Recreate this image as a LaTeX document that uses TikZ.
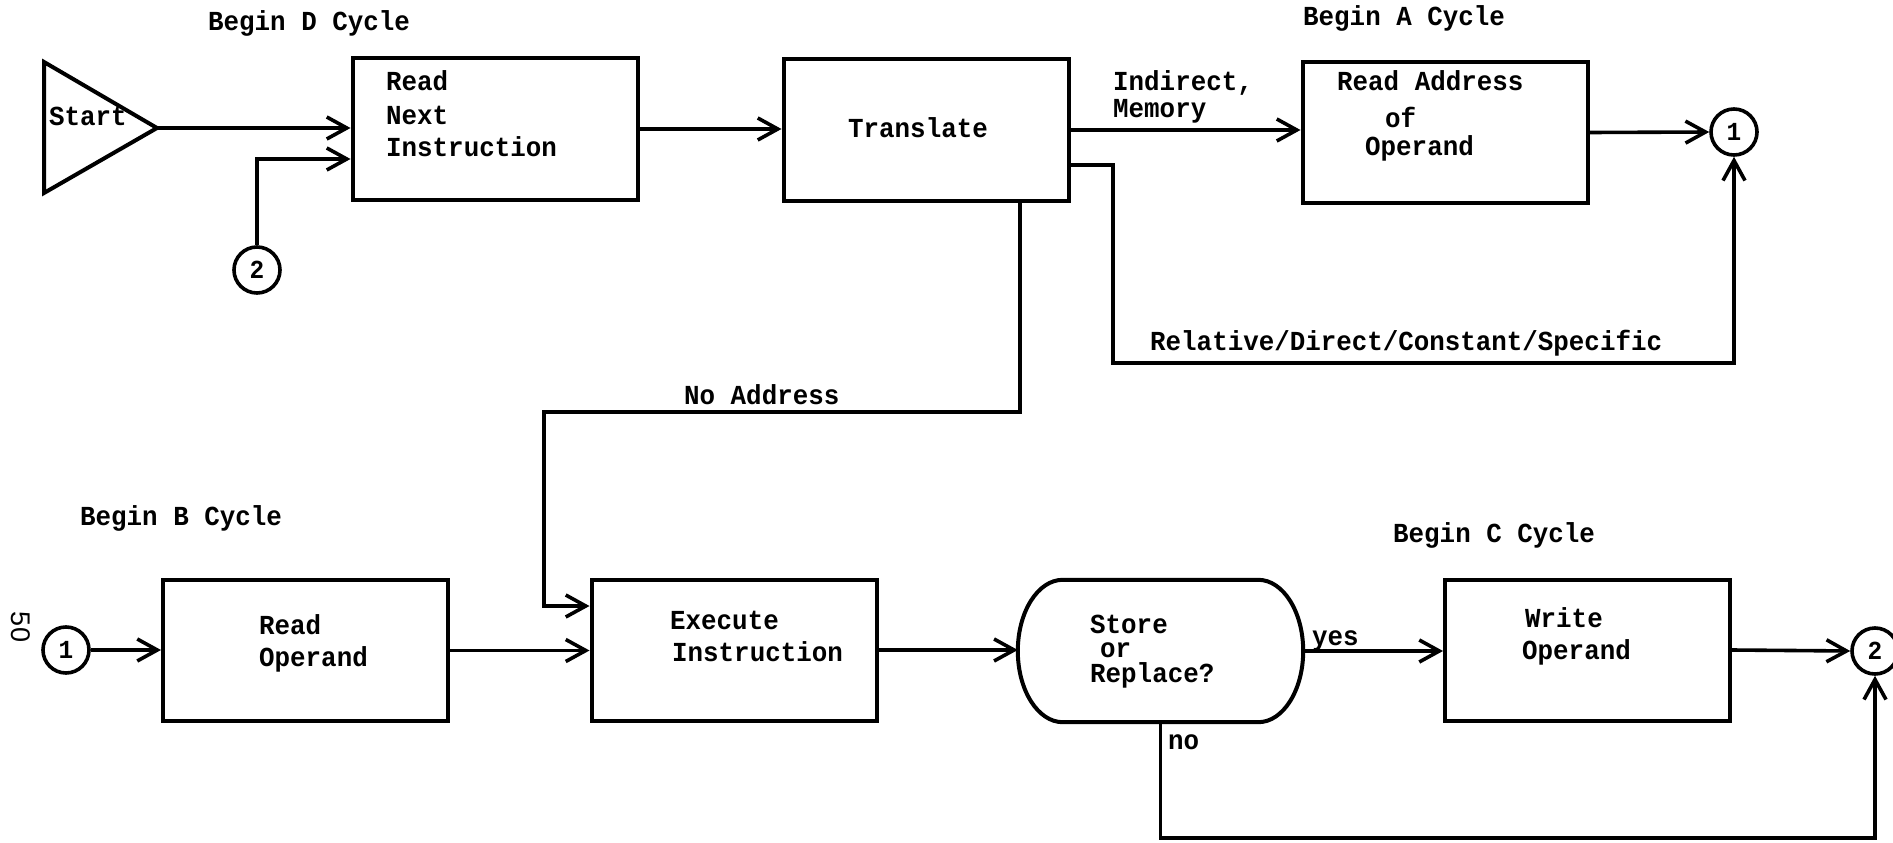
\documentclass[tikz,border=0pt]{standalone}
\usepackage{fontspec}
\setmainfont{Liberation Serif}
\setmonofont[FakeStretch=0.94]{Liberation Mono}
\setsansfont{Liberation Sans}
\usetikzlibrary{arrows.meta,calc}

\begin{document}
\begin{tikzpicture}[x=1pt,y=-1pt,
  txt/.style={font=\ttfamily\bfseries\fontsize{27.5}{30}\selectfont, inner sep=0pt,
    anchor=mid west, yshift=-5pt},
  box/.style={draw, line width=4pt, minimum width=285pt, minimum height=141pt, inner sep=0pt},
  conn/.style={draw, circle, line width=3.6pt, minimum size=46pt, inner sep=0pt,
    font=\ttfamily\bfseries\fontsize{26}{28}\selectfont},
  flow/.style={line width=3.6pt, -{Straight Barb[length=20pt,width=22pt]}},
  wire/.style={line width=3.6pt}]

% page frame
\fill[white] (0,0) rectangle (1893,843);
\useasboundingbox (0,0) rectangle (1893,843);

% ---- start symbol
\coordinate (st1) at (44,62);
\coordinate (st2) at (44,193);
\coordinate (sttip) at (157,128);
\draw[line width=4pt, line join=miter] (st1) -- (sttip) -- (st2) -- cycle;
\node[txt] (tstart) at (49,118) {Start};

% ---- process boxes
\node[box] (rn)  at (495,129)    {};
\node[box] (tr)  at (926,130)    {};
\node[box] (ra)  at (1445,132.5) {};
\node[box] (ro)  at (305.5,650.5){};
\node[box] (ex)  at (734,650)    {};
\node[box] (wo)  at (1587.5,650) {};

% ---- decision (flat top and bottom, elliptic ends)
\node[minimum width=285pt, minimum height=142pt, inner sep=0pt] (dec) at (1160.5,651) {};
\draw[line width=4pt]
  ($(dec.north west)+(45,0)$) -- ($(dec.north east)+(-45,0)$)
  .. controls +(25,0) and +(0,-39) .. (dec.east)
  .. controls +(0,39) and +(25,0) .. ($(dec.south east)+(-45,0)$)
  -- ($(dec.south west)+(45,0)$)
  .. controls +(-25,0) and +(0,39) .. (dec.west)
  .. controls +(0,-39) and +(-25,0) .. ($(dec.north west)+(45,0)$) -- cycle;

% ---- off-page connectors
\node[conn] (c2a) at (257,270)  {2};
\node[conn] (c1a) at (1734,132) {1};
\node[conn] (c1b) at (66,650)   {1};
\node[conn] (c2b) at (1875,651) {2};

% ---- box texts
\node[txt] (rn1) at (386,83)  {Read};
\node[txt] (rn2) at (386,117) {Next};
\node[txt] (rn3) at (386,149) {Instruction};
\node[txt] (tr1) at (848,130) {Translate};
\node[txt] (ra1) at (1337,83)  {Read Address};
\node[txt] (ra2) at (1385,120) {of};
\node[txt] (ra3) at (1365,148) {Operand};
\node[txt] (ro1) at (259,627) {Read};
\node[txt] (ro2) at (259,659) {Operand};
\node[txt] (ex1) at (670,622) {Execute};
\node[txt] (ex2) at (672,654) {Instruction};
\node[txt] (de1) at (1090,626) {Store};
\node[txt] (de2) at (1100,650) {or};
\node[txt] (de3) at (1090,675) {Replace?};
\node[txt] (wo1) at (1525,620) {Write};
\node[txt] (wo2) at (1522,652) {Operand};

% ---- cycle headings
\node[txt] (hd) at (208,23)   {Begin D Cycle};
\node[txt] (ha) at (1303,18)  {Begin A Cycle};
\node[txt] (hb) at (80,518)   {Begin B Cycle};
\node[txt] (hc) at (1393,535) {Begin C Cycle};

% ---- connector labels
\node[txt] (lind) at (1113,83)  {Indirect,};
\node[txt] (lmem) at (1113,110) {Memory};
\node[txt] (lrel) at (1150,343) {Relative/Direct/Constant/Specific};
\node[txt] (lna)  at (684,397)  {No Address};
\node[txt] (lyes) at (1312,638) {yes};
\node[txt] (lno)  at (1168,742) {no};

% ---- page number
\node[font=\sffamily\fontsize{27}{30}\selectfont, rotate=-90, inner sep=0pt] (pg) at (21,627) {50};

% ---- connectors
\draw[flow] (sttip) -- (sttip -| rn.west);
\draw[flow] (c2a.north) |- ($(rn.west)+(0,30)$);
\draw[flow] (rn.east) -- (rn.east -| tr.west);
\draw[flow] (tr.east) -- (tr.east -| ra.west);
\draw[flow] (ra.east) -- (c1a.west);

\coordinate (relc) at (1113,363);
\draw[flow] ($(tr.east)+(0,35)$) -| (relc) -| (c1a.south);

\coordinate (nac) at (544,412);
\draw[flow] ($(tr.south)+(94,0)$) |- (nac) |- ($(ex.west)+(0,-44)$);

\draw[flow] (c1b.east) -- (c1b.east -| ro.west);
\draw[flow] (ro.east) -- (ro.east -| ex.west);
\draw[flow] (ex.east) -- (ex.east -| dec.west);
\draw[flow] (dec.east) -- (dec.east -| wo.west);
\draw[flow] (wo.east) -- (c2b.west);

\coordinate (noc) at (1160.5,838);
\draw[flow] (dec.south) -- (noc) -| (c2b.south);

\end{tikzpicture}
\end{document}
